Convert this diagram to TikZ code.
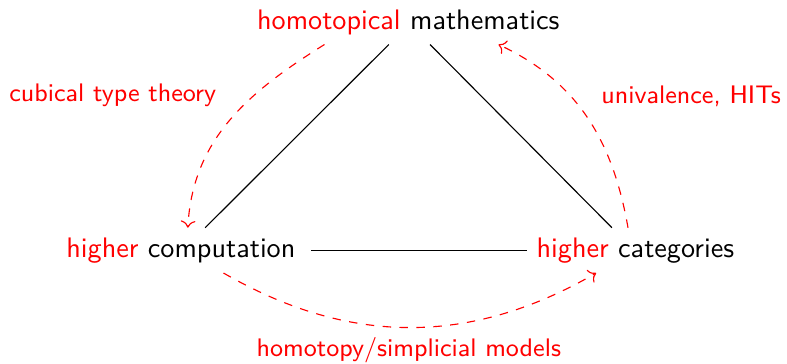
\documentclass[tikz,border=0pt]{standalone}
\usepackage{tikz}
\usetikzlibrary{arrows.meta,positioning}

\begin{document}
\begin{tikzpicture}[
    font=\sffamily,
    corner/.style={inner sep=0.333em},
    link/.style={draw=black},
    route/.style={->, red, dashed},
    note/.style={text=red, font=\sffamily\small}
]
\useasboundingbox (0,0) rectangle (9.81,4.535);

\node[corner] (hmath) at (5.09,4.26) {\textcolor{red}{homotopical} mathematics};
\node[corner] (hcomp) at (2.255,1.414) {\textcolor{red}{higher} computation};
\node[corner] (hcat) at (7.92,1.414) {\textcolor{red}{higher} categories};

\node[note] (lcube) at (1.405,3.35) {cubical type theory};
\node[note] (luni) at (8.615,3.34) {univalence, HITs};
\node[note] (lmodels) at (5.096,0.165) {homotopy/simplicial models};

\draw[link] (hmath.229) -- (hcomp.43);
\draw[link] (hmath.-46) -- (hcat.136);
\draw[link, shorten <=2pt] (hcomp) -- (hcat);

\draw[route] (hmath.195) to[out=212, in=87] (hcomp.73);
\draw[route] (hcat.108) to[out=100, in=335] (hmath.-14);
\draw[route] (hcomp.-28) to[bend right=30] (hcat.210);
\end{tikzpicture}
\end{document}
